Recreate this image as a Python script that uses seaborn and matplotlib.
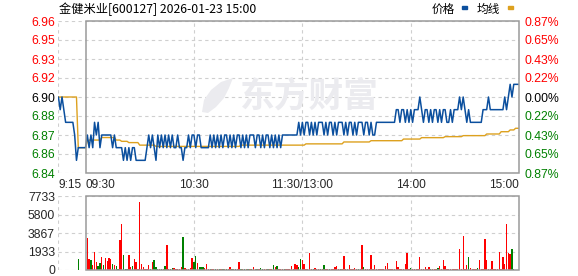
import matplotlib
matplotlib.use("Agg")
import matplotlib.pyplot as plt
import seaborn as sns
import pandas as pd
from matplotlib.patches import Rectangle, Polygon

# ---------------- data ----------------
title = "金健米业[600127] 2026-01-23 15:00"
prev_close = 6.90

# one value per minute, 9:15 ... 15:00 (index 15 = 09:30, 135 = 11:30/13:00, 255 = 15:00)
price = [
    6.90, 6.89, 6.90, 6.89, 6.88, 6.88, 6.88, 6.88, 6.88, 6.87, 6.85, 6.86, 6.86, 6.86, 6.86,
    6.86, 6.87, 6.86, 6.87, 6.86, 6.88, 6.87, 6.88, 6.86, 6.87, 6.87, 6.87, 6.87, 6.87, 6.87,
    6.86, 6.87, 6.86, 6.86, 6.86, 6.86, 6.85, 6.86, 6.85, 6.86, 6.85, 6.86, 6.86, 6.85, 6.85,
    6.85, 6.85, 6.85, 6.85, 6.86, 6.87, 6.86, 6.87, 6.86, 6.85, 6.87, 6.86, 6.87, 6.86, 6.87,
    6.86, 6.87, 6.86, 6.87, 6.86, 6.86, 6.87, 6.86, 6.86, 6.85, 6.86, 6.86, 6.87, 6.86, 6.87,
    6.87, 6.86, 6.87, 6.87, 6.86, 6.86, 6.86, 6.86, 6.86, 6.87, 6.86, 6.87, 6.86, 6.87, 6.86,
    6.87, 6.86, 6.87, 6.87, 6.86, 6.87, 6.86, 6.87, 6.86, 6.87, 6.87, 6.86, 6.87, 6.86, 6.87,
    6.86, 6.87, 6.87, 6.87, 6.86, 6.87, 6.87, 6.86, 6.87, 6.86, 6.87, 6.87, 6.86, 6.87, 6.86,
    6.87, 6.86, 6.87, 6.86, 6.87, 6.87, 6.87, 6.87, 6.87, 6.87, 6.87, 6.87, 6.87, 6.88, 6.87,
    6.88, 6.87, 6.88, 6.88, 6.87, 6.88, 6.87, 6.88, 6.87, 6.88, 6.88, 6.88, 6.87, 6.88, 6.87,
    6.88, 6.88, 6.87, 6.88, 6.87, 6.88, 6.88, 6.88, 6.87, 6.88, 6.87, 6.88, 6.88, 6.87, 6.88,
    6.87, 6.88, 6.88, 6.88, 6.87, 6.88, 6.88, 6.87, 6.88, 6.87, 6.87, 6.88, 6.88, 6.88, 6.88,
    6.88, 6.88, 6.88, 6.88, 6.88, 6.88, 6.88, 6.89, 6.89, 6.88, 6.89, 6.89, 6.88, 6.89, 6.88,
    6.89, 6.88, 6.89, 6.89, 6.89, 6.90, 6.89, 6.88, 6.89, 6.89, 6.88, 6.89, 6.88, 6.89, 6.89,
    6.88, 6.89, 6.88, 6.89, 6.89, 6.88, 6.88, 6.89, 6.88, 6.89, 6.89, 6.89, 6.90, 6.89, 6.90,
    6.89, 6.88, 6.89, 6.88, 6.88, 6.88, 6.88, 6.88, 6.88, 6.88, 6.89, 6.89, 6.89, 6.90, 6.89,
    6.89, 6.89, 6.89, 6.89, 6.89, 6.89, 6.89, 6.90, 6.89, 6.90, 6.91, 6.90, 6.91, 6.91, 6.91, 6.91,
]

avg_price = [
    6.900, 6.900, 6.900, 6.900, 6.900, 6.900, 6.900, 6.900, 6.900, 6.900, 6.900, 6.860, 6.860, 6.860, 6.860, 6.860,
    6.865, 6.866, 6.866, 6.866, 6.866, 6.866, 6.866, 6.866, 6.868, 6.868, 6.868, 6.868, 6.868, 6.868, 6.868, 6.868,
    6.866, 6.866, 6.866, 6.865, 6.865, 6.865, 6.865, 6.864, 6.864, 6.864, 6.864, 6.864, 6.864, 6.862, 6.862, 6.862,
    6.862, 6.862, 6.862, 6.862, 6.862, 6.862, 6.861, 6.861, 6.861, 6.861, 6.861, 6.861, 6.861, 6.861, 6.861, 6.861,
    6.861, 6.861, 6.861, 6.861, 6.861, 6.861, 6.861, 6.861, 6.861, 6.861, 6.861, 6.861, 6.861, 6.861, 6.861, 6.861,
    6.861, 6.861, 6.861, 6.861, 6.861, 6.861, 6.861, 6.861, 6.861, 6.861, 6.861, 6.861, 6.861, 6.861, 6.861, 6.861,
    6.861, 6.861, 6.861, 6.861, 6.861, 6.862, 6.862, 6.862, 6.862, 6.862, 6.862, 6.862, 6.862, 6.862, 6.862, 6.862,
    6.862, 6.862, 6.862, 6.862, 6.862, 6.862, 6.862, 6.862, 6.862, 6.862, 6.862, 6.862, 6.862, 6.862, 6.862, 6.862,
    6.862, 6.862, 6.862, 6.862, 6.862, 6.862, 6.862, 6.862, 6.862, 6.863, 6.863, 6.863, 6.863, 6.863, 6.863, 6.863,
    6.863, 6.863, 6.863, 6.863, 6.863, 6.863, 6.863, 6.863, 6.863, 6.863, 6.863, 6.863, 6.863, 6.863, 6.8645, 6.8645,
    6.8645, 6.8645, 6.8645, 6.8645, 6.8645, 6.8645, 6.8645, 6.8645, 6.8645, 6.8645, 6.8645, 6.8645, 6.8645, 6.8655, 6.8655, 6.8655,
    6.8655, 6.8655, 6.8655, 6.8655, 6.8655, 6.8655, 6.8655, 6.8655, 6.8655, 6.8655, 6.8655, 6.8655, 6.8655, 6.8655, 6.8655, 6.8668,
    6.8668, 6.8668, 6.8668, 6.8668, 6.8668, 6.8668, 6.8668, 6.8668, 6.8668, 6.8679, 6.8679, 6.8679, 6.8679, 6.8679, 6.8679, 6.8679,
    6.8679, 6.8679, 6.8679, 6.8679, 6.8679, 6.8679, 6.8687, 6.8687, 6.8687, 6.8687, 6.8687, 6.8687, 6.8687, 6.8687, 6.8687, 6.8687,
    6.8695, 6.8695, 6.8695, 6.8695, 6.8695, 6.8695, 6.8695, 6.8695, 6.8695, 6.8695, 6.8695, 6.8695, 6.8695, 6.8708, 6.8708, 6.8708,
    6.8708, 6.8708, 6.8708, 6.8708, 6.8708, 6.8726, 6.8726, 6.8726, 6.8726, 6.8726, 6.874, 6.874, 6.874, 6.8753, 6.8753, 6.8753,
]

volume = [
    0, 0, 0, 0, 0, 0, 0, 0, 0, 0, 0, 1155, 0, 0, 0, 0,
    3322, 1154, 1049, 525, 1923, 839, 420, 769, 1364, 525, 1259, 979, 1259, 1119, 629, 525,
    420, 140, 3147, 4825, 1608, 140, 140, 1573, 350, 420, 1154, 874, 140, 7167, 629, 280,
    140, 140, 525, 140, 874, 1049, 280, 140, 140, 140, 140, 420, 2623, 140, 140, 245,
    210, 140, 140, 140, 280, 3462, 245, 140, 140, 175, 1259, 804, 1469, 769, 280, 280,
    280, 210, 629, 140, 105, 105, 105, 105, 105, 105, 105, 105, 105, 105, 105, 280,
    105, 105, 105, 105, 839, 105, 140, 105, 105, 140, 105, 105, 280, 105, 140, 105,
    175, 105, 105, 105, 105, 140, 140, 525, 280, 420, 105, 105, 105, 105, 105, 140,
    140, 420, 105, 629, 490, 280, 1154, 1049, 629, 140, 105, 1783, 140, 105, 210, 105,
    105, 105, 105, 525, 105, 105, 105, 105, 105, 280, 420, 105, 105, 105, 1469, 140,
    105, 525, 105, 140, 210, 105, 105, 105, 2623, 280, 105, 140, 105, 1573, 105, 525,
    105, 105, 105, 105, 140, 420, 734, 105, 140, 105, 105, 944, 280, 105, 140, 105,
    629, 1783, 140, 210, 105, 105, 105, 105, 1364, 105, 105, 280, 105, 280, 105, 105,
    105, 105, 210, 420, 105, 1049, 420, 105, 105, 105, 140, 105, 105, 105, 2203, 105,
    3567, 105, 525, 1364, 210, 105, 105, 140, 210, 1049, 140, 140, 3252, 1049, 140, 140,
    944, 105, 105, 140, 1888, 105, 1364, 629, 4825, 1783, 1678, 2203, 105, 0, 0, 3672,
]

# 1 = up (red bar), 0 = down (green bar)
vol_up = [
    1, 1, 1, 1, 1, 1, 1, 1, 1, 1, 1, 0, 1, 1, 1, 1,
    1, 1, 0, 1, 1, 1, 0, 0, 1, 0, 1, 1, 1, 1, 0, 1,
    0, 0, 1, 1, 0, 0, 0, 1, 1, 0, 1, 1, 1, 1, 1, 1,
    1, 1, 1, 0, 1, 0, 0, 0, 1, 0, 1, 0, 1, 1, 0, 0,
    1, 1, 1, 1, 1, 0, 1, 1, 1, 1, 1, 0, 0, 1, 0, 0,
    0, 1, 1, 1, 0, 1, 1, 0, 1, 0, 1, 0, 1, 0, 1, 1,
    0, 1, 0, 1, 1, 0, 1, 0, 1, 0, 1, 0, 1, 1, 0, 1,
    0, 0, 1, 1, 0, 1, 1, 0, 1, 0, 1, 1, 1, 0, 1, 1,
    1, 1, 1, 1, 1, 0, 0, 1, 1, 1, 1, 1, 1, 0, 1, 1,
    1, 0, 1, 0, 1, 1, 0, 1, 1, 1, 1, 1, 0, 1, 1, 1,
    1, 1, 1, 1, 1, 1, 0, 1, 1, 0, 1, 1, 1, 1, 1, 1,
    1, 1, 1, 1, 1, 1, 1, 1, 1, 1, 1, 1, 1, 1, 1, 1,
    1, 1, 1, 0, 1, 1, 1, 1, 1, 1, 1, 1, 1, 1, 0, 1,
    1, 1, 0, 1, 1, 1, 1, 1, 1, 1, 1, 1, 1, 1, 1, 1,
    1, 1, 1, 0, 1, 1, 1, 1, 0, 1, 1, 1, 1, 1, 1, 1,
    1, 1, 1, 1, 1, 1, 1, 1, 1, 1, 1, 0, 0, 1, 1, 1,
]

price_levels = [6.84, 6.855, 6.87, 6.885, 6.90, 6.915, 6.93, 6.945, 6.96]
price_labels = ["6.84", "6.86", "6.87", "6.88", "6.90", "6.92", "6.93", "6.95", "6.96"]
pct_labels = ["0.87%", "0.65%", "0.43%", "0.22%", "0.00%", "0.22%", "0.43%", "0.65%", "0.87%"]
vol_levels = [0, 1933, 3867, 5800, 7733]
vol_labels = ["0", "1933", "3867", "5800", "7733"]
time_pos = [0, 15, 75, 135, 195, 255]
time_labels = ["9:15", "09:30", "10:30", "11:30/13:00", "14:00", "15:00"]
time_ha = ["left", "left", "center", "center", "center", "right"]
open_idx, close_idx = 15, 255
legend_names = ["价格", "均线"]
watermark = "东方财富"

# ---------------- style ----------------
BLUE = "#0b4f9e"
ORANGE = "#dda11f"
RED = "#ff0000"
GREEN = "#008000"
GRID = "#cfcfcf"
FRAME = "#9a9a9a"
WM = "#ebebef"

sns.set_style("white")
plt.rcParams["font.family"] = ["Liberation Sans", "Noto Sans CJK SC", "DejaVu Sans"]

n = len(price)
assert len(avg_price) == n == len(volume) == len(vol_up)
df = pd.DataFrame({
    "i": list(range(n)),
    "price": price,
    "avg": avg_price,
    "vol": volume,
    "dir": ["up" if u else "down" for u in vol_up],
})

W, H = 578, 276
fig = plt.figure(figsize=(W / 100, H / 100), dpi=100)
x0, x1 = 58.4, 519.2
ax = fig.add_axes([x0 / W, 1 - 173 / H, (x1 - x0) / W, 152 / H])
axv = fig.add_axes([x0 / W, 1 - 270 / H, (x1 - x0) / W, 73.7 / H])

def level_color(v):
    if abs(v - prev_close) < 1e-9:
        return "black"
    return RED if v > prev_close else GREEN

def px_to_axes(px, py):
    return ((px - x0) / (x1 - x0), (173 - py) / 152)

# ---- price panel ----
ax.set_xlim(0, n - 1)
ax.set_ylim(price_levels[0], price_levels[-1])
ax.hlines(price_levels, 0, n - 1, colors=GRID, linestyles=(0, (3, 3)), lw=0.8, zorder=0)
ax.vlines([time_pos[0], 75, 135, 195], price_levels[0], price_levels[-1],
          colors=GRID, linestyles=(0, (3, 3)), lw=0.8, zorder=0)
# watermark (logo feather + text)
logo_pts = [px_to_axes(*p) for p in [(202, 112), (204, 100), (211, 90), (221, 82), (233, 78),
                                     (229, 88), (224, 98), (216, 107), (208, 113)]]
ax.add_patch(Polygon(logo_pts, closed=True, transform=ax.transAxes, fc=WM, ec="none", zorder=0))
ax.text(0.545, 0.505, watermark, transform=ax.transAxes, ha="center", va="center",
        fontsize=25, fontweight="bold", color=WM, family=["Noto Sans CJK SC"], zorder=0)

sns.lineplot(data=df, x="i", y="avg", ax=ax, color=ORANGE, lw=1.0, zorder=3)
sns.lineplot(data=df, x="i", y="price", ax=ax, color=BLUE, lw=1.1, zorder=4)
ax.add_patch(Rectangle((open_idx, price_levels[0]), close_idx - open_idx,
                       price_levels[-1] - price_levels[0], fill=False, ec=FRAME, lw=1.1,
                       zorder=5, clip_on=False))
for s in ax.spines.values():
    s.set_visible(False)
ax.set_xlabel("")
ax.set_ylabel("")
ax.set_yticks(price_levels, labels=price_labels)
ax.tick_params(axis="y", length=0, pad=2.5, labelsize=8.8)
for lbl, v in zip(ax.get_yticklabels(), price_levels):
    lbl.set_color(level_color(v))
ax.set_xticks(time_pos, labels=time_labels)
ax.tick_params(axis="x", length=0, pad=4.0, labelsize=8.6)
for lbl, ha in zip(ax.get_xticklabels(), time_ha):
    lbl.set_ha(ha)

axr = ax.twinx()
axr.set_ylim(price_levels[0], price_levels[-1])
axr.set_yticks(price_levels, labels=pct_labels)
axr.tick_params(axis="y", length=0, pad=3.5, labelsize=8.8)
for lbl, v in zip(axr.get_yticklabels(), price_levels):
    lbl.set_color(level_color(v))
for s in axr.spines.values():
    s.set_visible(False)
axr.grid(False)

# ---- volume panel ----
sns.barplot(data=df[df["vol"] > 0], x="i", y="vol", hue="dir",
            palette={"up": RED, "down": GREEN}, native_scale=True, dodge=False,
            width=0.75, errorbar=None, legend=False, saturation=1,
            edgecolor="none", linewidth=0, ax=axv)
axv.set_xlim(0, n - 1)
axv.set_ylim(vol_levels[0], vol_levels[-1])
axv.hlines(vol_levels, 0, n - 1, colors=GRID, linestyles=(0, (3, 3)), lw=0.8, zorder=0)
axv.vlines([time_pos[0], 75, 135, 195], vol_levels[0], vol_levels[-1],
           colors=GRID, linestyles=(0, (3, 3)), lw=0.8, zorder=0)
axv.add_patch(Rectangle((open_idx, vol_levels[0]), close_idx - open_idx,
                        vol_levels[-1] - vol_levels[0], fill=False, ec=FRAME, lw=1.1,
                        zorder=5, clip_on=False))
for s in axv.spines.values():
    s.set_visible(False)
axv.set_xlabel("")
axv.set_ylabel("")
axv.set_xticks([])
axv.set_yticks(vol_levels, labels=vol_labels)
axv.tick_params(axis="y", length=0, pad=2.5, labelsize=8.8)

# ---- header ----
fig.text(59 / W, 1 - 9 / H, title, ha="left", va="center", fontsize=8.8,
         family=["Noto Sans CJK SC", "DejaVu Sans"], color="black")
fig.text(431.5 / W, 1 - 9 / H, legend_names[0], ha="left", va="center", fontsize=8.4,
         family=["Noto Sans CJK SC"], color="black")
fig.text(476.5 / W, 1 - 9 / H, legend_names[1], ha="left", va="center", fontsize=8.4,
         family=["Noto Sans CJK SC"], color="black")
fig.patches.append(Rectangle((462 / W, 1 - 8.5 / H), 5 / W, 2.5 / H,
                             transform=fig.transFigure, color=BLUE, figure=fig))
fig.patches.append(Rectangle((508 / W, 1 - 8.5 / H), 5 / W, 2.5 / H,
                             transform=fig.transFigure, color=ORANGE, figure=fig))

fig.savefig("out.png", dpi=100)
